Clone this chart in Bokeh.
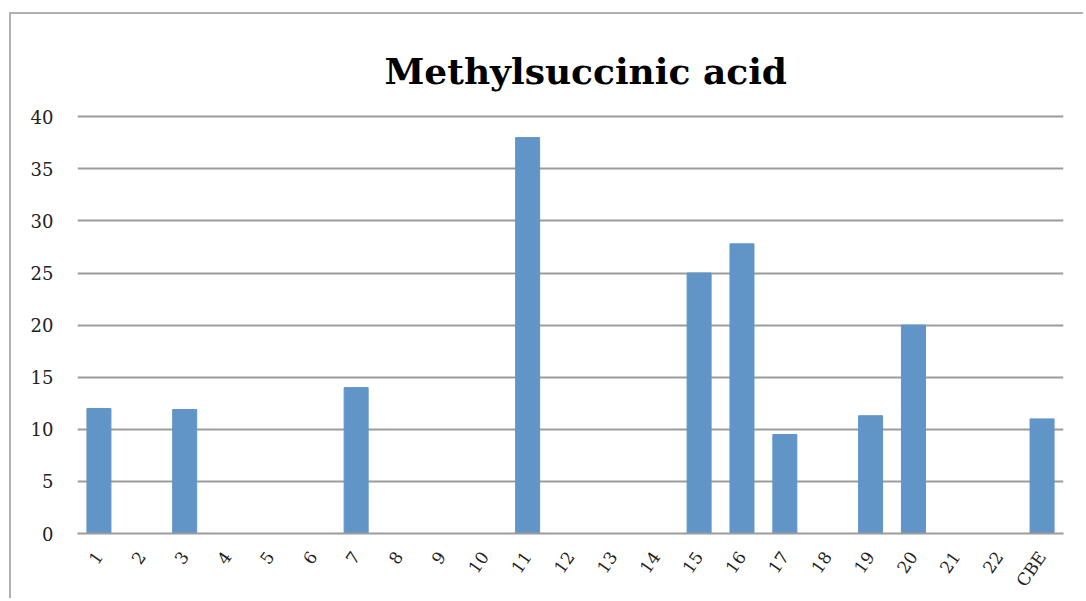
import math
from bokeh.plotting import figure
from bokeh.models import Range1d
from bokeh.embed import file_html
from bokeh.resources import INLINE

categories = ["1", "2", "3", "4", "5", "6", "7", "8", "9", "10", "11", "12",
              "13", "14", "15", "16", "17", "18", "19", "20", "21", "22", "CBE"]
values = [12.0, 0, 11.9, 0, 0, 0, 14.0, 0, 0, 0, 38.0, 0,
          0, 0, 25.0, 27.8, 9.5, 0, 11.3, 20.0, 0, 0, 11.0]
y_ticks = [0, 5, 10, 15, 20, 25, 30, 35, 40]

W, H = 1074, 586
p = figure(x_range=categories, y_range=Range1d(0, 40.5), width=W, height=H,
           output_backend="svg", toolbar_location=None,
           min_border_left=66, min_border_right=22, min_border_top=97,
           min_border_bottom=67)
p.margin = (12, 0, 0, 9)
p.styles = {"border-top": "2.5px solid #B0B0B0",
            "border-left": "2.5px solid #B0B0B0"}

p.title.text = "Methylsuccinic acid"
p.title.align = "left"
p.title.text_font = "DejaVu Serif"
p.title.text_font_size = "36px"
p.title.text_font_style = "bold"
p.title.text_color = "#000000"
p.title.offset = 307
p.title.standoff = 39

p.vbar(x=categories, top=values, width=0.56, fill_color="#6195C8",
       line_color="#6195C8", line_width=1)

p.outline_line_color = None
p.background_fill_color = "white"
p.border_fill_color = "white"

p.xgrid.grid_line_color = None
p.ygrid.grid_line_color = "#9C9C9C"
p.ygrid.grid_line_width = 2
p.yaxis.ticker = y_ticks

p.yaxis.axis_line_color = None
p.yaxis.major_tick_line_color = None
p.yaxis.minor_tick_line_color = None
p.yaxis.major_label_standoff = 18
p.yaxis.major_label_text_font = "DejaVu Serif"
p.yaxis.major_label_text_font_size = "18px"
p.yaxis.major_label_text_color = "#222222"

p.xaxis.axis_line_color = "#9C9C9C"
p.xaxis.axis_line_width = 2
p.xaxis.major_tick_line_color = None
p.xaxis.minor_tick_line_color = None
p.xaxis.major_label_standoff = 14
p.xaxis.major_label_orientation = math.radians(55)
p.xaxis.major_label_text_font = "DejaVu Serif"
p.xaxis.major_label_text_font_size = "17px"
p.xaxis.major_label_text_color = "#222222"

open("out.html", "w").write(file_html(p, INLINE))
